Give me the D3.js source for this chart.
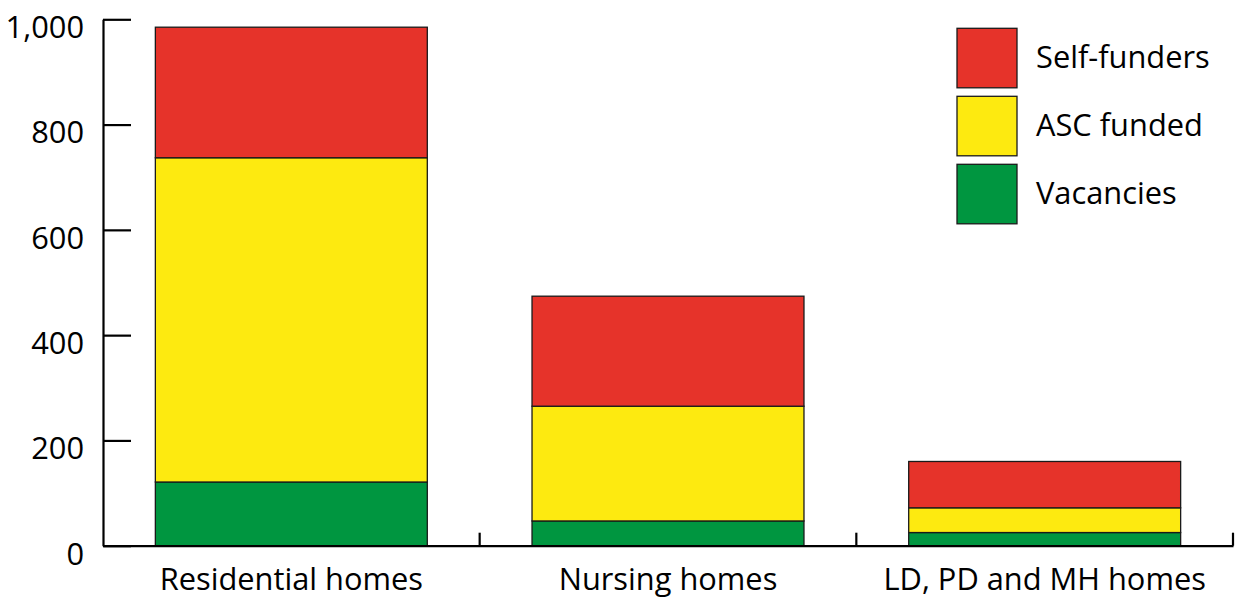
<!DOCTYPE html>
<html>
<head>
<meta charset="utf-8">
<script src="https://cdn.jsdelivr.net/npm/d3@7"></script>
<style>
  html, body { margin: 0; padding: 0; background: #fff; }
  svg { display: block; }
  text { font-family: "Open Sans", Lato, sans-serif; fill: #000; }
</style>
</head>
<body>
<svg id="chart" width="1236" height="599"></svg>
<script>
// Care home places by home type, split by who funds them
const categories = ["Residential homes", "Nursing homes", "LD, PD and MH homes"];
const seriesNames = ["Vacancies", "ASC funded", "Self-funders"];
const vacancies   = [121, 47, 25];
const ascFunded   = [616, 218, 47];
const selfFunders = [248, 209, 88];
const yTicks = [0, 200, 400, 600, 800, 1000];
const colors = { "Self-funders": "#e6332a", "ASC funded": "#fdea10", "Vacancies": "#009640" };

const rows = categories.map((c, i) => ({
  category: c,
  "Vacancies": vacancies[i],
  "ASC funded": ascFunded[i],
  "Self-funders": selfFunders[i]
}));
const stacked = d3.stack().keys(seriesNames)(rows);

const svg = d3.select("#chart");
const plotLeft = 103, plotRight = 1233, plotTop = 19.3, plotBottom = 545.7;
const fontSize = 30.8;
const fontFamily = "'Open Sans', Lato, sans-serif";

const x = d3.scaleBand().domain(categories).range([plotLeft, plotRight]);
const y = d3.scaleLinear().domain([0, 1000]).range([plotBottom, plotTop]);
const barW = x.bandwidth() * 0.722;

// stacked bars
svg.append("g").selectAll("g")
  .data(stacked)
  .join("g")
  .attr("fill", d => colors[d.key])
  .selectAll("rect")
  .data(d => d)
  .join("rect")
  .attr("x", d => x(d.data.category) + (x.bandwidth() - barW) / 2)
  .attr("width", barW)
  .attr("y", d => y(d[1]))
  .attr("height", d => y(d[0]) - y(d[1]))
  .attr("stroke", "#1a1a1a")
  .attr("stroke-width", 1.3);

// y axis with inward ticks
const yAxis = d3.axisLeft(y)
  .tickValues(yTicks)
  .tickFormat(d3.format(","))
  .tickSizeInner(-28)
  .tickSizeOuter(0)
  .tickPadding(19);
const gy = svg.append("g").attr("transform", `translate(${plotLeft},0)`).call(yAxis);
gy.select(".domain").attr("stroke", "#000").attr("stroke-width", 2.2);
gy.selectAll(".tick line").attr("stroke", "#000").attr("stroke-width", 2.2);
gy.selectAll(".tick text")
  .attr("font-size", fontSize)
  .attr("font-family", fontFamily)
  .attr("fill", "#000")
  .attr("dy", null)
  .attr("y", 18.4);

// x axis: baseline with upward ticks between categories
const xAxis = d3.axisBottom(x).tickSize(0).tickPadding(0);
const gx = svg.append("g").attr("transform", `translate(0,${plotBottom})`).call(xAxis);
gx.select(".domain").attr("stroke", "#000").attr("stroke-width", 2.2);
gx.selectAll(".tick text")
  .attr("font-size", fontSize)
  .attr("font-family", fontFamily)
  .attr("fill", "#000")
  .attr("dy", null)
  .attr("y", 44.3);
gx.selectAll(".sep")
  .data(categories)
  .join("line")
  .attr("class", "sep")
  .attr("x1", d => x(d) + x.bandwidth())
  .attr("x2", d => x(d) + x.bandwidth())
  .attr("y1", 0)
  .attr("y2", -13)
  .attr("stroke", "#000")
  .attr("stroke-width", 2.2);

// legend
const legendOrder = ["Self-funders", "ASC funded", "Vacancies"];
const lg = svg.append("g").attr("transform", "translate(957,28.3)");
const item = lg.selectAll("g")
  .data(legendOrder)
  .join("g")
  .attr("transform", (d, i) => `translate(0,${i * 68})`);
item.append("rect")
  .attr("width", 60)
  .attr("height", 59.5)
  .attr("fill", d => colors[d])
  .attr("stroke", "#1a1a1a")
  .attr("stroke-width", 1.3);
item.append("text")
  .attr("x", 79)
  .attr("y", 39.7)
  .attr("font-size", fontSize)
  .attr("font-family", fontFamily)
  .text(d => d);
</script>
</body>
</html>
